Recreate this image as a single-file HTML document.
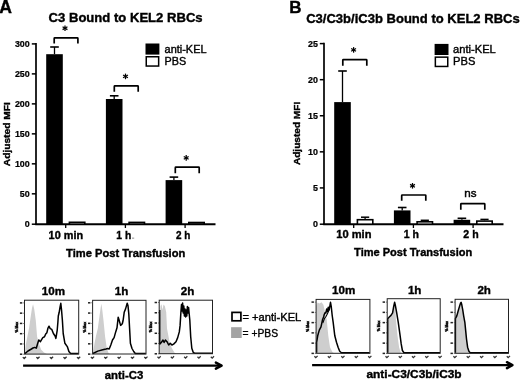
<!DOCTYPE html>
<html><head><meta charset="utf-8"><title>Figure</title>
<style>html,body{margin:0;padding:0;background:#fff;width:520px;height:380px;overflow:hidden}svg{display:block}text{stroke:#000;stroke-width:0.38px}text.n{stroke-width:0.25px}</style>
</head><body>
<svg width="520" height="380" viewBox="0 0 520 380" font-family='"Liberation Sans", Arial, sans-serif'>
<rect width="520" height="380" fill="#fff"/>
<text x="-0.8" y="12.9" font-size="17.6" font-weight="bold" text-anchor="start" fill="#000">A</text>
<text x="289.2" y="12.6" font-size="17" font-weight="bold" text-anchor="start" fill="#000">B</text>
<text x="48.6" y="22.4" font-size="12.9" font-weight="bold" text-anchor="start" fill="#000" textLength="154" lengthAdjust="spacingAndGlyphs">C3 Bound to KEL2 RBCs</text>
<text x="306.2" y="22.6" font-size="13.2" font-weight="bold" text-anchor="start" fill="#000" textLength="213.5" lengthAdjust="spacingAndGlyphs">C3/C3b/iC3b Bound to KEL2 RBCs</text>
<line x1="36" y1="43.1" x2="36" y2="225.1" stroke="#000" stroke-width="1.7" stroke-linecap="butt"/>
<line x1="31.8" y1="224.2" x2="36" y2="224.2" stroke="#000" stroke-width="1.5" stroke-linecap="butt"/>
<text x="29.7" y="227.4" font-size="8.9" font-weight="bold" text-anchor="end" fill="#000" style="stroke-width:0.22px">0</text>
<line x1="31.8" y1="193.82" x2="36" y2="193.82" stroke="#000" stroke-width="1.5" stroke-linecap="butt"/>
<text x="29.7" y="197.02" font-size="8.9" font-weight="bold" text-anchor="end" fill="#000" style="stroke-width:0.22px">50</text>
<line x1="31.8" y1="163.83" x2="36" y2="163.83" stroke="#000" stroke-width="1.5" stroke-linecap="butt"/>
<text x="29.7" y="167.03" font-size="8.9" font-weight="bold" text-anchor="end" fill="#000" style="stroke-width:0.22px">100</text>
<line x1="31.8" y1="133.85" x2="36" y2="133.85" stroke="#000" stroke-width="1.5" stroke-linecap="butt"/>
<text x="29.7" y="137.05" font-size="8.9" font-weight="bold" text-anchor="end" fill="#000" style="stroke-width:0.22px">150</text>
<line x1="31.8" y1="103.87" x2="36" y2="103.87" stroke="#000" stroke-width="1.5" stroke-linecap="butt"/>
<text x="29.7" y="107.07" font-size="8.9" font-weight="bold" text-anchor="end" fill="#000" style="stroke-width:0.22px">200</text>
<line x1="31.8" y1="73.88" x2="36" y2="73.88" stroke="#000" stroke-width="1.5" stroke-linecap="butt"/>
<text x="29.7" y="77.08" font-size="8.9" font-weight="bold" text-anchor="end" fill="#000" style="stroke-width:0.22px">250</text>
<line x1="31.8" y1="43.9" x2="36" y2="43.9" stroke="#000" stroke-width="1.5" stroke-linecap="butt"/>
<text x="29.7" y="47.1" font-size="8.9" font-weight="bold" text-anchor="end" fill="#000" style="stroke-width:0.22px">300</text>
<line x1="35.2" y1="224.2" x2="215.5" y2="224.2" stroke="#000" stroke-width="2.0" stroke-linecap="butt"/>
<line x1="65.7" y1="224.2" x2="65.7" y2="228.0" stroke="#000" stroke-width="1.3" stroke-linecap="butt"/>
<line x1="54.5" y1="47.0" x2="54.5" y2="54.2" stroke="#000" stroke-width="1.3" stroke-linecap="butt"/>
<line x1="50.2" y1="47.0" x2="58.8" y2="47.0" stroke="#000" stroke-width="1.6" stroke-linecap="butt"/>
<rect x="46.20" y="54.20" width="16.60" height="170.00" fill="#000"/>
<rect x="69.40" y="222.30" width="15.40" height="1.90" fill="#fff" stroke="#000" stroke-width="1.6"/>
<path d="M54.2 43.6 V38.4 Q54.2 37.8 54.800000000000004 37.8 H77.30000000000001 Q77.9 37.8 77.9 38.4 V43.6" fill="none" stroke="#000" stroke-width="1.7"/>
<line x1="65.0" y1="25.4" x2="65.0" y2="31.0" stroke="#000" stroke-width="1.25" stroke-linecap="butt"/>
<line x1="67.42" y1="26.8" x2="62.58" y2="29.6" stroke="#000" stroke-width="1.25" stroke-linecap="butt"/>
<line x1="67.42" y1="29.6" x2="62.58" y2="26.8" stroke="#000" stroke-width="1.25" stroke-linecap="butt"/>
<line x1="125.4" y1="224.2" x2="125.4" y2="228.0" stroke="#000" stroke-width="1.3" stroke-linecap="butt"/>
<line x1="114.2" y1="95.8" x2="114.2" y2="99.0" stroke="#000" stroke-width="1.3" stroke-linecap="butt"/>
<line x1="109.9" y1="95.8" x2="118.5" y2="95.8" stroke="#000" stroke-width="1.6" stroke-linecap="butt"/>
<rect x="105.90" y="99.00" width="16.60" height="125.20" fill="#000"/>
<rect x="129.10" y="222.40" width="15.40" height="1.80" fill="#fff" stroke="#000" stroke-width="1.6"/>
<path d="M114.3 91.7 V86.5 Q114.3 85.9 114.89999999999999 85.9 H137.6 Q138.2 85.9 138.2 86.5 V91.7" fill="none" stroke="#000" stroke-width="1.7"/>
<line x1="125.5" y1="73.6" x2="125.5" y2="79.2" stroke="#000" stroke-width="1.25" stroke-linecap="butt"/>
<line x1="127.92" y1="75.0" x2="123.08" y2="77.8" stroke="#000" stroke-width="1.25" stroke-linecap="butt"/>
<line x1="127.92" y1="77.8" x2="123.08" y2="75.0" stroke="#000" stroke-width="1.25" stroke-linecap="butt"/>
<line x1="185.1" y1="224.2" x2="185.1" y2="228.0" stroke="#000" stroke-width="1.3" stroke-linecap="butt"/>
<line x1="173.9" y1="177.1" x2="173.9" y2="180.1" stroke="#000" stroke-width="1.3" stroke-linecap="butt"/>
<line x1="169.6" y1="177.1" x2="178.2" y2="177.1" stroke="#000" stroke-width="1.6" stroke-linecap="butt"/>
<rect x="165.60" y="180.10" width="16.60" height="44.10" fill="#000"/>
<rect x="188.80" y="222.50" width="15.40" height="1.70" fill="#fff" stroke="#000" stroke-width="1.6"/>
<path d="M175.3 173.3 V167.79999999999998 Q175.3 167.2 175.9 167.2 H198.6 Q199.2 167.2 199.2 167.79999999999998 V173.3" fill="none" stroke="#000" stroke-width="1.7"/>
<line x1="186.2" y1="155.1" x2="186.2" y2="160.7" stroke="#000" stroke-width="1.25" stroke-linecap="butt"/>
<line x1="188.62" y1="156.5" x2="183.78" y2="159.3" stroke="#000" stroke-width="1.25" stroke-linecap="butt"/>
<line x1="188.62" y1="159.3" x2="183.78" y2="156.5" stroke="#000" stroke-width="1.25" stroke-linecap="butt"/>
<line x1="324" y1="42.800000000000004" x2="324" y2="225.1" stroke="#000" stroke-width="1.7" stroke-linecap="butt"/>
<line x1="319.8" y1="224.2" x2="324" y2="224.2" stroke="#000" stroke-width="1.5" stroke-linecap="butt"/>
<text x="317.9" y="227.4" font-size="8.9" font-weight="bold" text-anchor="end" fill="#000" style="stroke-width:0.22px">0</text>
<line x1="319.8" y1="187.92" x2="324" y2="187.92" stroke="#000" stroke-width="1.5" stroke-linecap="butt"/>
<text x="317.9" y="191.12" font-size="8.9" font-weight="bold" text-anchor="end" fill="#000" style="stroke-width:0.22px">5</text>
<line x1="319.8" y1="151.84" x2="324" y2="151.84" stroke="#000" stroke-width="1.5" stroke-linecap="butt"/>
<text x="317.9" y="155.04" font-size="8.9" font-weight="bold" text-anchor="end" fill="#000" style="stroke-width:0.22px">10</text>
<line x1="319.8" y1="115.76" x2="324" y2="115.76" stroke="#000" stroke-width="1.5" stroke-linecap="butt"/>
<text x="317.9" y="118.96" font-size="8.9" font-weight="bold" text-anchor="end" fill="#000" style="stroke-width:0.22px">15</text>
<line x1="319.8" y1="79.68" x2="324" y2="79.68" stroke="#000" stroke-width="1.5" stroke-linecap="butt"/>
<text x="317.9" y="82.88" font-size="8.9" font-weight="bold" text-anchor="end" fill="#000" style="stroke-width:0.22px">20</text>
<line x1="319.8" y1="43.6" x2="324" y2="43.6" stroke="#000" stroke-width="1.5" stroke-linecap="butt"/>
<text x="317.9" y="46.8" font-size="8.9" font-weight="bold" text-anchor="end" fill="#000" style="stroke-width:0.22px">25</text>
<line x1="323.2" y1="224.2" x2="503.5" y2="224.2" stroke="#000" stroke-width="2.0" stroke-linecap="butt"/>
<line x1="353.7" y1="224.2" x2="353.7" y2="228.0" stroke="#000" stroke-width="1.3" stroke-linecap="butt"/>
<line x1="342.5" y1="71.0" x2="342.5" y2="102.1" stroke="#000" stroke-width="1.3" stroke-linecap="butt"/>
<line x1="338.2" y1="71.0" x2="346.8" y2="71.0" stroke="#000" stroke-width="1.6" stroke-linecap="butt"/>
<rect x="334.20" y="102.10" width="16.60" height="122.10" fill="#000"/>
<line x1="365.1" y1="217.2" x2="365.1" y2="218.9" stroke="#000" stroke-width="1.3" stroke-linecap="butt"/>
<line x1="361.0" y1="217.2" x2="369.2" y2="217.2" stroke="#000" stroke-width="1.5" stroke-linecap="butt"/>
<rect x="357.40" y="219.70" width="15.40" height="4.50" fill="#fff" stroke="#000" stroke-width="1.6"/>
<path d="M342.8 65.7 V60.2 Q342.8 59.6 343.40000000000003 59.6 H366.2 Q366.8 59.6 366.8 60.2 V65.7" fill="none" stroke="#000" stroke-width="1.7"/>
<line x1="353.6" y1="47.1" x2="353.6" y2="52.7" stroke="#000" stroke-width="1.25" stroke-linecap="butt"/>
<line x1="356.02" y1="48.5" x2="351.18" y2="51.3" stroke="#000" stroke-width="1.25" stroke-linecap="butt"/>
<line x1="356.02" y1="51.3" x2="351.18" y2="48.5" stroke="#000" stroke-width="1.25" stroke-linecap="butt"/>
<line x1="413.4" y1="224.2" x2="413.4" y2="228.0" stroke="#000" stroke-width="1.3" stroke-linecap="butt"/>
<line x1="402.2" y1="207.5" x2="402.2" y2="210.4" stroke="#000" stroke-width="1.3" stroke-linecap="butt"/>
<line x1="397.9" y1="207.5" x2="406.5" y2="207.5" stroke="#000" stroke-width="1.6" stroke-linecap="butt"/>
<rect x="393.90" y="210.40" width="16.60" height="13.80" fill="#000"/>
<line x1="424.8" y1="220.3" x2="424.8" y2="221.0" stroke="#000" stroke-width="1.3" stroke-linecap="butt"/>
<line x1="420.7" y1="220.3" x2="428.9" y2="220.3" stroke="#000" stroke-width="1.5" stroke-linecap="butt"/>
<rect x="417.10" y="221.80" width="15.40" height="2.40" fill="#fff" stroke="#000" stroke-width="1.6"/>
<path d="M401.7 200.8 V195.6 Q401.7 195.0 402.3 195.0 H425.2 Q425.8 195.0 425.8 195.6 V200.8" fill="none" stroke="#000" stroke-width="1.7"/>
<line x1="412.5" y1="183.0" x2="412.5" y2="188.6" stroke="#000" stroke-width="1.25" stroke-linecap="butt"/>
<line x1="414.92" y1="184.4" x2="410.08" y2="187.2" stroke="#000" stroke-width="1.25" stroke-linecap="butt"/>
<line x1="414.92" y1="187.2" x2="410.08" y2="184.4" stroke="#000" stroke-width="1.25" stroke-linecap="butt"/>
<line x1="473.1" y1="224.2" x2="473.1" y2="228.0" stroke="#000" stroke-width="1.3" stroke-linecap="butt"/>
<line x1="461.9" y1="218.3" x2="461.9" y2="219.8" stroke="#000" stroke-width="1.3" stroke-linecap="butt"/>
<line x1="457.6" y1="218.3" x2="466.2" y2="218.3" stroke="#000" stroke-width="1.6" stroke-linecap="butt"/>
<rect x="453.60" y="219.80" width="16.60" height="4.40" fill="#000"/>
<line x1="484.5" y1="219.4" x2="484.5" y2="220.3" stroke="#000" stroke-width="1.3" stroke-linecap="butt"/>
<line x1="480.4" y1="219.4" x2="488.6" y2="219.4" stroke="#000" stroke-width="1.5" stroke-linecap="butt"/>
<rect x="476.80" y="221.10" width="15.40" height="3.10" fill="#fff" stroke="#000" stroke-width="1.6"/>
<path d="M460.8 209.7 V204.29999999999998 Q460.8 203.7 461.40000000000003 203.7 H484.2 Q484.8 203.7 484.8 204.29999999999998 V209.7" fill="none" stroke="#000" stroke-width="1.7"/>
<text x="470.4" y="197.4" font-size="11.6" font-weight="normal" text-anchor="middle" fill="#000" style="stroke-width:0.45px">ns</text>
<text transform="translate(10,166.2) rotate(-90)" font-size="9.8" font-weight="bold" textLength="64" lengthAdjust="spacingAndGlyphs">Adjusted MFI</text>
<text transform="translate(300.2,165.1) rotate(-90)" font-size="9.8" font-weight="bold" textLength="63.3" lengthAdjust="spacingAndGlyphs">Adjusted MFI</text>
<text x="65.85" y="238.6" font-size="11" font-weight="bold" text-anchor="middle" fill="#000" textLength="34.5" lengthAdjust="spacingAndGlyphs">10 min</text>
<text x="116.3" y="238.6" font-size="11" font-weight="bold" text-anchor="start" fill="#000" textLength="14.9" lengthAdjust="spacingAndGlyphs">1 h</text>
<rect x="132" y="237.6" width="2.2" height="1.1" fill="#999"/>
<text x="183.2" y="238.6" font-size="11" font-weight="bold" text-anchor="middle" fill="#000" textLength="14.4" lengthAdjust="spacingAndGlyphs">2 h</text>
<text x="353.9" y="238.0" font-size="11" font-weight="bold" text-anchor="middle" fill="#000" textLength="35.2" lengthAdjust="spacingAndGlyphs">10 min</text>
<text x="411.3" y="238.2" font-size="11" font-weight="bold" text-anchor="middle" fill="#000" textLength="15.2" lengthAdjust="spacingAndGlyphs">1 h</text>
<text x="471.0" y="237.8" font-size="11" font-weight="bold" text-anchor="middle" fill="#000" textLength="15.3" lengthAdjust="spacingAndGlyphs">2 h</text>
<text x="66.1" y="256.6" font-size="11.2" font-weight="bold" text-anchor="start" fill="#000" textLength="119.2" lengthAdjust="spacingAndGlyphs">Time Post Transfusion</text>
<text x="354.1" y="255.8" font-size="11.2" font-weight="bold" text-anchor="start" fill="#000" textLength="118.2" lengthAdjust="spacingAndGlyphs">Time Post Transfusion</text>
<rect x="145.5" y="43.5" width="13.9" height="11.1" fill="#000"/>
<rect x="146.25" y="56.75" width="12.4" height="9.3" fill="#fff" stroke="#000" stroke-width="1.5"/>
<text x="164.6" y="53.1" font-size="10.6" font-weight="normal" text-anchor="start" fill="#000" textLength="41.9" lengthAdjust="spacingAndGlyphs">anti-KEL</text>
<text x="164.6" y="64.6" font-size="10.6" font-weight="normal" text-anchor="start" fill="#000" textLength="21.6" lengthAdjust="spacingAndGlyphs">PBS</text>
<rect x="434.6" y="43.9" width="13.9" height="11.1" fill="#000"/>
<rect x="435.35" y="57.15" width="12.4" height="9.3" fill="#fff" stroke="#000" stroke-width="1.5"/>
<text x="453.1" y="53.3" font-size="10.6" font-weight="normal" text-anchor="start" fill="#000" textLength="42.7" lengthAdjust="spacingAndGlyphs">anti-KEL</text>
<text x="453.1" y="64.5" font-size="10.6" font-weight="normal" text-anchor="start" fill="#000" textLength="22.3" lengthAdjust="spacingAndGlyphs">PBS</text>
<polygon points="24.7,354.1 25.7,345 27.5,336 29,328.6 30.5,318 32,308 33.05,304.2 34.2,309 35.8,320.5 37.1,336.8 39,344 41.2,349.8 44,352.5 47,354.1" fill="#cecece"/>
<polyline points="24.9,353.55 28,351 31.4,349 33,348 34.7,347.4 36.3,348.2 37.5,344 38.8,340 40.4,341.7 42.8,337.6 44.5,336.8 45.7,334 46.9,332.7 48,328 49,326.2 50.2,328.6 51.8,329.4 53.4,333.5 55.1,336 55.9,338.4 57.2,330.3 57.9,322 58.3,316 59.2,312.3 60,307.4 60.8,303.3 61.6,310.7 62.4,320.5 63.2,333.5 64.9,343.3 67.3,346.6 68.9,351.5 70.6,353.55 78.5,353.55" fill="none" stroke="#000" stroke-width="1.5" stroke-linejoin="round"/>
<rect x="24.5" y="300.2" width="54.20" height="53.90" fill="none" stroke="#222" stroke-width="1"/>
<rect x="19.90" y="353.45" width="2.4" height="1.5" fill="#222"/>
<rect x="23.20" y="353.80" width="1.1" height="0.8" fill="#555"/>
<rect x="19.90" y="343.19" width="2.4" height="1.5" fill="#222"/>
<rect x="23.20" y="343.54" width="1.1" height="0.8" fill="#555"/>
<rect x="19.90" y="332.93" width="2.4" height="1.5" fill="#222"/>
<rect x="23.20" y="333.28" width="1.1" height="0.8" fill="#555"/>
<rect x="19.90" y="322.67" width="2.4" height="1.5" fill="#222"/>
<rect x="23.20" y="323.02" width="1.1" height="0.8" fill="#555"/>
<rect x="19.90" y="312.41" width="2.4" height="1.5" fill="#222"/>
<rect x="23.20" y="312.76" width="1.1" height="0.8" fill="#555"/>
<rect x="19.90" y="302.15" width="2.4" height="1.5" fill="#222"/>
<rect x="23.20" y="302.50" width="1.1" height="0.8" fill="#555"/>
<text transform="translate(17.60,327.15) rotate(-90)" font-size="3.4" font-weight="bold" text-anchor="middle" fill="#111" style="stroke:#111;stroke-width:0.5px">% Max</text>
<path d="M22.80 357.10 L24.20 358.50 L26.00 356.70" fill="none" stroke="#333" stroke-width="1.3"/>
<path d="M36.35 357.10 L37.75 358.50 L39.55 356.70" fill="none" stroke="#333" stroke-width="1.3"/>
<path d="M49.90 357.10 L51.30 358.50 L53.10 356.70" fill="none" stroke="#333" stroke-width="1.3"/>
<path d="M63.45 357.10 L64.85 358.50 L66.65 356.70" fill="none" stroke="#333" stroke-width="1.3"/>
<path d="M77.00 357.10 L78.40 358.50 L80.20 356.70" fill="none" stroke="#333" stroke-width="1.3"/>
<text x="41.8" y="294.5" font-size="11.6" font-weight="bold" text-anchor="start" fill="#000">10m</text>
<polygon points="92.8,354.0 94.5,343.3 96,336 97.8,328.6 99.5,316 100.6,308 101.4,303.8 102.3,310 103.5,320.5 105.1,336.8 106.8,348.2 108.4,352.8 110,354.0" fill="#cecece"/>
<polyline points="92.9,353.45 97.8,351.1 102.7,349.8 106,349 107.6,348.5 109.2,349 110.8,345 112.5,340 114.1,337.6 115.7,331.9 117,327.8 118.2,317.2 119,319.7 120.6,325.4 122.3,323.7 123.1,320.5 124.2,312.3 125.5,309.1 127.2,303.3 128,305.8 128.8,313.9 129.6,328.6 130.4,343.3 132,348.5 133.7,351.5 135.3,353.45 145.8,353.45" fill="none" stroke="#000" stroke-width="1.5" stroke-linejoin="round"/>
<rect x="92.6" y="300.3" width="53.40" height="53.70" fill="none" stroke="#222" stroke-width="1"/>
<rect x="88.00" y="353.35" width="2.4" height="1.5" fill="#222"/>
<rect x="91.30" y="353.70" width="1.1" height="0.8" fill="#555"/>
<rect x="88.00" y="343.09" width="2.4" height="1.5" fill="#222"/>
<rect x="91.30" y="343.44" width="1.1" height="0.8" fill="#555"/>
<rect x="88.00" y="332.83" width="2.4" height="1.5" fill="#222"/>
<rect x="91.30" y="333.18" width="1.1" height="0.8" fill="#555"/>
<rect x="88.00" y="322.57" width="2.4" height="1.5" fill="#222"/>
<rect x="91.30" y="322.92" width="1.1" height="0.8" fill="#555"/>
<rect x="88.00" y="312.31" width="2.4" height="1.5" fill="#222"/>
<rect x="91.30" y="312.66" width="1.1" height="0.8" fill="#555"/>
<rect x="88.00" y="302.05" width="2.4" height="1.5" fill="#222"/>
<rect x="91.30" y="302.40" width="1.1" height="0.8" fill="#555"/>
<text transform="translate(85.70,327.15) rotate(-90)" font-size="3.4" font-weight="bold" text-anchor="middle" fill="#111" style="stroke:#111;stroke-width:0.5px">% Max</text>
<path d="M90.90 357.00 L92.30 358.40 L94.10 356.60" fill="none" stroke="#333" stroke-width="1.3"/>
<path d="M104.25 357.00 L105.65 358.40 L107.45 356.60" fill="none" stroke="#333" stroke-width="1.3"/>
<path d="M117.60 357.00 L119.00 358.40 L120.80 356.60" fill="none" stroke="#333" stroke-width="1.3"/>
<path d="M130.95 357.00 L132.35 358.40 L134.15 356.60" fill="none" stroke="#333" stroke-width="1.3"/>
<path d="M144.30 357.00 L145.70 358.40 L147.50 356.60" fill="none" stroke="#333" stroke-width="1.3"/>
<text x="114.7" y="294.5" font-size="11.6" font-weight="bold" text-anchor="start" fill="#000">1h</text>
<polygon points="159.5,353.7 159.8,320 160.5,306 161.5,304.2 162.5,310 163.5,304.5 164.8,306 166.2,312 167,328.6 169.5,341.7 171.9,348.2 174.4,352.5 176,353.7" fill="#cecece"/>
<polyline points="159.7,310 159.7,344.1 161.3,342.5 163,340 164.1,342.5 165.4,340 167,341.7 168.7,345 170.3,343.3 171.9,345 173.6,344.1 176,341.7 177.7,337.6 179.3,331.9 180.1,325.4 180.9,312.3 181.5,304.5 182.1,311 182.6,303 183.2,313 183.8,306 184.4,316 185,309 185.6,317 186.2,310 186.8,316 187.4,306.5 188,313 188.6,307.5 189.2,314 189.8,320 190.7,336.8 191.8,348.2 193.2,352.3 194.5,353.15 212.2,353.15" fill="none" stroke="#000" stroke-width="1.5" stroke-linejoin="round"/>
<rect x="159.2" y="300.2" width="53.30" height="53.50" fill="none" stroke="#222" stroke-width="1"/>
<rect x="154.60" y="353.05" width="2.4" height="1.5" fill="#222"/>
<rect x="157.90" y="353.40" width="1.1" height="0.8" fill="#555"/>
<rect x="154.60" y="342.79" width="2.4" height="1.5" fill="#222"/>
<rect x="157.90" y="343.14" width="1.1" height="0.8" fill="#555"/>
<rect x="154.60" y="332.53" width="2.4" height="1.5" fill="#222"/>
<rect x="157.90" y="332.88" width="1.1" height="0.8" fill="#555"/>
<rect x="154.60" y="322.27" width="2.4" height="1.5" fill="#222"/>
<rect x="157.90" y="322.62" width="1.1" height="0.8" fill="#555"/>
<rect x="154.60" y="312.01" width="2.4" height="1.5" fill="#222"/>
<rect x="157.90" y="312.36" width="1.1" height="0.8" fill="#555"/>
<rect x="154.60" y="301.75" width="2.4" height="1.5" fill="#222"/>
<rect x="157.90" y="302.10" width="1.1" height="0.8" fill="#555"/>
<text transform="translate(152.30,326.95) rotate(-90)" font-size="3.4" font-weight="bold" text-anchor="middle" fill="#111" style="stroke:#111;stroke-width:0.5px">% Max</text>
<path d="M157.50 356.70 L158.90 358.10 L160.70 356.30" fill="none" stroke="#333" stroke-width="1.3"/>
<path d="M170.82 356.70 L172.22 358.10 L174.02 356.30" fill="none" stroke="#333" stroke-width="1.3"/>
<path d="M184.15 356.70 L185.55 358.10 L187.35 356.30" fill="none" stroke="#333" stroke-width="1.3"/>
<path d="M197.48 356.70 L198.88 358.10 L200.68 356.30" fill="none" stroke="#333" stroke-width="1.3"/>
<path d="M210.80 356.70 L212.20 358.10 L214.00 356.30" fill="none" stroke="#333" stroke-width="1.3"/>
<text x="180.8" y="294.5" font-size="11.6" font-weight="bold" text-anchor="start" fill="#000">2h</text>
<polygon points="316.3,353.3 316.3,306 317.5,302.5 319.5,303.5 321.5,302.3 323.4,304.8 325,312 326.7,319.5 328.3,335.8 330,347.2 332.4,352 334,353.3" fill="#cecece"/>
<polyline points="316.6,352.75 316.6,342.3 317.7,335.8 319.3,330.1 321,326.8 322.6,319.5 323.6,317 324.2,314.6 325.2,312.5 325.9,313 326.7,308.9 327.5,311.5 328.3,307.2 329.2,310 330.5,302.3 331.3,307 332.2,315.5 333.2,322.7 334.8,335.8 336.5,342.3 338.1,347.2 339.7,351.3 341.4,352.75 369.7,352.75" fill="none" stroke="#000" stroke-width="1.5" stroke-linejoin="round"/>
<rect x="316.1" y="299.4" width="53.80" height="53.90" fill="none" stroke="#222" stroke-width="1"/>
<rect x="311.50" y="352.65" width="2.4" height="1.5" fill="#222"/>
<rect x="314.80" y="353.00" width="1.1" height="0.8" fill="#555"/>
<rect x="311.50" y="342.39" width="2.4" height="1.5" fill="#222"/>
<rect x="314.80" y="342.74" width="1.1" height="0.8" fill="#555"/>
<rect x="311.50" y="332.13" width="2.4" height="1.5" fill="#222"/>
<rect x="314.80" y="332.48" width="1.1" height="0.8" fill="#555"/>
<rect x="311.50" y="321.87" width="2.4" height="1.5" fill="#222"/>
<rect x="314.80" y="322.22" width="1.1" height="0.8" fill="#555"/>
<rect x="311.50" y="311.61" width="2.4" height="1.5" fill="#222"/>
<rect x="314.80" y="311.96" width="1.1" height="0.8" fill="#555"/>
<rect x="311.50" y="301.35" width="2.4" height="1.5" fill="#222"/>
<rect x="314.80" y="301.70" width="1.1" height="0.8" fill="#555"/>
<text transform="translate(309.20,326.35) rotate(-90)" font-size="3.4" font-weight="bold" text-anchor="middle" fill="#111" style="stroke:#111;stroke-width:0.5px">% Max</text>
<path d="M314.40 356.30 L315.80 357.70 L317.60 355.90" fill="none" stroke="#333" stroke-width="1.3"/>
<path d="M327.85 356.30 L329.25 357.70 L331.05 355.90" fill="none" stroke="#333" stroke-width="1.3"/>
<path d="M341.30 356.30 L342.70 357.70 L344.50 355.90" fill="none" stroke="#333" stroke-width="1.3"/>
<path d="M354.75 356.30 L356.15 357.70 L357.95 355.90" fill="none" stroke="#333" stroke-width="1.3"/>
<path d="M368.20 356.30 L369.60 357.70 L371.40 355.90" fill="none" stroke="#333" stroke-width="1.3"/>
<text x="332.0" y="293.8" font-size="11.6" font-weight="bold" text-anchor="start" fill="#000">10m</text>
<polyline points="322.8,323 324.5,318.5 326,316.5 327.3,314 328.6,311 329.6,306.5" fill="none" stroke="#000" stroke-width="1.1"/>
<polygon points="387.5,353.3 387.5,320 389.3,318 391,316.5 392.6,314 393.7,308 394.6,304.5 395.4,307 395.9,319.5 397.5,335.8 399.1,347.2 400.3,351.3 401.5,353.3" fill="#cecece"/>
<polyline points="387.7,352.75 387.7,318.7 389.3,317 391,315.4 392.6,312.9 393.7,306.4 394.6,302.3 395.4,305.6 396.7,312.9 398.3,322.7 399.9,334.2 401.2,343.9 402.4,350.5 404,352.75 440,352.75" fill="none" stroke="#000" stroke-width="1.5" stroke-linejoin="round"/>
<rect x="387.2" y="298.7" width="53.00" height="54.60" fill="none" stroke="#222" stroke-width="1"/>
<rect x="382.60" y="352.65" width="2.4" height="1.5" fill="#222"/>
<rect x="385.90" y="353.00" width="1.1" height="0.8" fill="#555"/>
<rect x="382.60" y="342.39" width="2.4" height="1.5" fill="#222"/>
<rect x="385.90" y="342.74" width="1.1" height="0.8" fill="#555"/>
<rect x="382.60" y="332.13" width="2.4" height="1.5" fill="#222"/>
<rect x="385.90" y="332.48" width="1.1" height="0.8" fill="#555"/>
<rect x="382.60" y="321.87" width="2.4" height="1.5" fill="#222"/>
<rect x="385.90" y="322.22" width="1.1" height="0.8" fill="#555"/>
<rect x="382.60" y="311.61" width="2.4" height="1.5" fill="#222"/>
<rect x="385.90" y="311.96" width="1.1" height="0.8" fill="#555"/>
<rect x="382.60" y="301.35" width="2.4" height="1.5" fill="#222"/>
<rect x="385.90" y="301.70" width="1.1" height="0.8" fill="#555"/>
<text transform="translate(380.30,326.00) rotate(-90)" font-size="3.4" font-weight="bold" text-anchor="middle" fill="#111" style="stroke:#111;stroke-width:0.5px">% Max</text>
<path d="M385.50 356.30 L386.90 357.70 L388.70 355.90" fill="none" stroke="#333" stroke-width="1.3"/>
<path d="M398.75 356.30 L400.15 357.70 L401.95 355.90" fill="none" stroke="#333" stroke-width="1.3"/>
<path d="M412.00 356.30 L413.40 357.70 L415.20 355.90" fill="none" stroke="#333" stroke-width="1.3"/>
<path d="M425.25 356.30 L426.65 357.70 L428.45 355.90" fill="none" stroke="#333" stroke-width="1.3"/>
<path d="M438.50 356.30 L439.90 357.70 L441.70 355.90" fill="none" stroke="#333" stroke-width="1.3"/>
<text x="407.9" y="294.4" font-size="11.6" font-weight="bold" text-anchor="start" fill="#000">1h</text>
<polygon points="455.4,353.3 455.4,320 456.7,317.5 458.3,312 459.5,308 460.5,304.5 461.1,304 461.8,306 462.7,311 463.7,318 464.9,324 465.7,331 466.5,339 467.3,347 468.3,351.5 469.5,353.3" fill="#cecece"/>
<polyline points="455.4,352.75 455.4,318.7 456.7,316.2 458.3,310.5 459.5,306.4 460.5,303.2 461.1,302.3 461.8,304.8 462.7,309.7 463.7,316.2 464.9,322.7 465.7,330.9 466.5,339 467.6,347.2 468.9,351.3 470.2,352.75 508.2,352.75" fill="none" stroke="#000" stroke-width="1.5" stroke-linejoin="round"/>
<rect x="455.1" y="299.3" width="53.40" height="54.00" fill="none" stroke="#222" stroke-width="1"/>
<rect x="450.50" y="352.65" width="2.4" height="1.5" fill="#222"/>
<rect x="453.80" y="353.00" width="1.1" height="0.8" fill="#555"/>
<rect x="450.50" y="342.39" width="2.4" height="1.5" fill="#222"/>
<rect x="453.80" y="342.74" width="1.1" height="0.8" fill="#555"/>
<rect x="450.50" y="332.13" width="2.4" height="1.5" fill="#222"/>
<rect x="453.80" y="332.48" width="1.1" height="0.8" fill="#555"/>
<rect x="450.50" y="321.87" width="2.4" height="1.5" fill="#222"/>
<rect x="453.80" y="322.22" width="1.1" height="0.8" fill="#555"/>
<rect x="450.50" y="311.61" width="2.4" height="1.5" fill="#222"/>
<rect x="453.80" y="311.96" width="1.1" height="0.8" fill="#555"/>
<rect x="450.50" y="301.35" width="2.4" height="1.5" fill="#222"/>
<rect x="453.80" y="301.70" width="1.1" height="0.8" fill="#555"/>
<text transform="translate(448.20,326.30) rotate(-90)" font-size="3.4" font-weight="bold" text-anchor="middle" fill="#111" style="stroke:#111;stroke-width:0.5px">% Max</text>
<path d="M453.40 356.30 L454.80 357.70 L456.60 355.90" fill="none" stroke="#333" stroke-width="1.3"/>
<path d="M466.75 356.30 L468.15 357.70 L469.95 355.90" fill="none" stroke="#333" stroke-width="1.3"/>
<path d="M480.10 356.30 L481.50 357.70 L483.30 355.90" fill="none" stroke="#333" stroke-width="1.3"/>
<path d="M493.45 356.30 L494.85 357.70 L496.65 355.90" fill="none" stroke="#333" stroke-width="1.3"/>
<path d="M506.80 356.30 L508.20 357.70 L510.00 355.90" fill="none" stroke="#333" stroke-width="1.3"/>
<text x="477.4" y="294.4" font-size="11.6" font-weight="bold" text-anchor="start" fill="#000">2h</text>
<rect x="232.0" y="312.4" width="8.9" height="8.4" fill="#fff" stroke="#000" stroke-width="1.7"/>
<rect x="231.1" y="327.2" width="10.6" height="10.8" fill="#a4a4a4"/>
<text x="242.5" y="321.3" font-size="11.2" font-weight="normal" text-anchor="start" fill="#000" textLength="58.8" lengthAdjust="spacingAndGlyphs">= +anti-KEL</text>
<text x="242.5" y="337.4" font-size="11.2" font-weight="normal" text-anchor="start" fill="#000" textLength="35.5" lengthAdjust="spacingAndGlyphs">= +PBS</text>
<line x1="23.1" y1="365.6" x2="220.1" y2="365.6" stroke="#000" stroke-width="2.2" stroke-linecap="butt"/>
<path d="M215.9 362.6 L221.6 365.6 L215.9 368.6" fill="none" stroke="#000" stroke-width="2.5" stroke-linejoin="round" stroke-linecap="round"/>
<line x1="312.1" y1="365.2" x2="510.9" y2="365.2" stroke="#000" stroke-width="2.2" stroke-linecap="butt"/>
<path d="M507.0 362.2 L512.4 365.2 L507.0 368.2" fill="none" stroke="#000" stroke-width="2.5" stroke-linejoin="round" stroke-linecap="round"/>
<text x="104.8" y="379.0" font-size="11.2" font-weight="bold" text-anchor="start" fill="#000" textLength="38.5" lengthAdjust="spacingAndGlyphs">anti-C3</text>
<text x="366.5" y="378.2" font-size="11.2" font-weight="bold" text-anchor="start" fill="#000" textLength="95.1" lengthAdjust="spacingAndGlyphs">anti-C3/C3b/iC3b</text>
</svg>
</body></html>
